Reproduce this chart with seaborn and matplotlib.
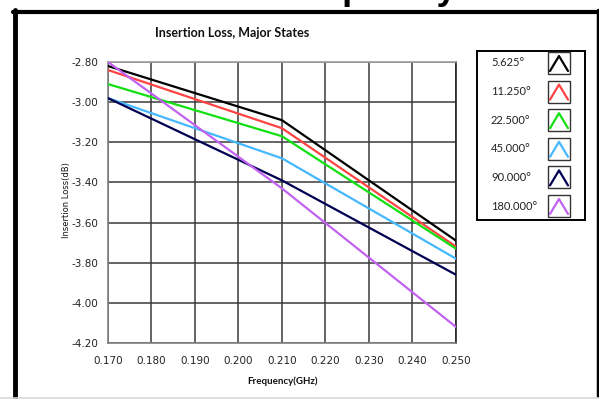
import matplotlib
matplotlib.use("Agg")
import matplotlib.pyplot as plt
import seaborn as sns
import pandas as pd
import numpy as np
from matplotlib.lines import Line2D
from matplotlib.patches import Rectangle

# ---- data ----
freq = [0.170, 0.210, 0.250]
states = ["5.625°", "11.250°", "22.500°", "45.000°", "90.000°", "180.000°"]
loss_5625 = [-2.82, -3.09, -3.69]
loss_11250 = [-2.84, -3.13, -3.72]
loss_22500 = [-2.91, -3.17, -3.73]
loss_45000 = [-2.98, -3.28, -3.78]
loss_90000 = [-2.98, -3.39, -3.86]
loss_180000 = [-2.80, -3.43, -4.12]
colors = ["#000000", "#ff4242", "#11e011", "#45b8ff", "#000050", "#c262f2"]
x_ticks = [0.170, 0.180, 0.190, 0.200, 0.210, 0.220, 0.230, 0.240, 0.250]
y_ticks = [-2.80, -3.00, -3.20, -3.40, -3.60, -3.80, -4.00, -4.20]

series = [loss_5625, loss_11250, loss_22500, loss_45000, loss_90000, loss_180000]
df = pd.DataFrame({
    "Frequency": np.tile(freq, len(states)),
    "Loss": np.concatenate(series),
    "State": np.repeat(states, len(freq)),
})

sns.set_style("white")
plt.rcParams["font.family"] = ["Lato", "DejaVu Sans"]

fig = plt.figure(figsize=(5.99, 3.99), dpi=100)
W, H = 599, 399

def fx(px):
    return px / W

def fy(py):
    return 1 - py / H

ax = fig.add_axes([fx(108), fy(343), fx(456) - fx(108), fy(62) - fy(343)])
sns.lineplot(data=df, x="Frequency", y="Loss", hue="State", hue_order=states,
             palette=colors, linewidth=1.6, legend=False, ax=ax, zorder=3)

ax.set_xlim(0.170, 0.250)
ax.set_ylim(-4.20, -2.80)
ax.set_xticks(x_ticks)
ax.set_xticklabels([f"{v:.3f}" for v in x_ticks])
ax.set_yticks(y_ticks)
ax.set_yticklabels([f"{v:.2f}" for v in y_ticks])
ax.set_xticks(np.arange(0.170, 0.2501, 0.002), minor=True)
ax.set_yticks(np.arange(-4.20, -2.7999, 0.05), minor=True)
ax.grid(True, which="major", color="#3a3a3a", linewidth=1.1, zorder=1)
ax.tick_params(axis="both", which="major", direction="out", length=5, width=1,
               color="#777777", labelsize=8, labelcolor="#222222", pad=2)
ax.tick_params(axis="both", which="minor", direction="out", length=3, width=1,
               color="#777777")
ax.tick_params(axis="x", pad=4)
for lab in ax.get_xticklabels() + ax.get_yticklabels():
    lab.set_family(["DejaVu Sans"])
    lab.set_fontsize(7.5)
ax.spines["left"].set_color("#808080")
ax.spines["bottom"].set_color("#808080")
ax.spines["top"].set_color("#a0a0a0")
ax.spines["right"].set_color("#222222")
for s in ax.spines.values():
    s.set_linewidth(1.2)
ax.set_xlabel("")
ax.set_ylabel("")

# titles and labels
fig.text(fx(232), fy(33), "Insertion Loss, Major States", ha="center", va="center",
         fontsize=9, fontweight="bold", color="#111111")
fig.text(fx(282), fy(381), "Frequency(GHz)", ha="center", va="center",
         fontsize=7, fontweight="bold", color="#111111")
fig.text(fx(67), fy(200), "Insertion Loss(dB)", ha="center", va="center",
         rotation=90, fontsize=6, color="#111111", family=["DejaVu Sans"])

# slide title above the frame (only its descenders show, as in the reference)
fig.text(fx(457), fy(-1), "Insertion Loss vs Frequency", ha="right", va="baseline",
         fontsize=26, fontweight="bold", color="#000000",
         family=["Liberation Sans", "DejaVu Sans"])

# outer frame
fig.add_artist(Line2D([fx(15), fx(15)], [fy(10), fy(399)], color="black", lw=3.5,
                      transform=fig.transFigure))
fig.add_artist(Line2D([fx(13), fx(599)], [fy(11.5), fy(11.5)], color="black", lw=3,
                      transform=fig.transFigure))
fig.add_artist(Line2D([fx(597.5), fx(597.5)], [fy(10), fy(396)], color="black", lw=2.5,
                      transform=fig.transFigure))
fig.add_artist(Line2D([fx(0), fx(599)], [fy(397.5), fy(397.5)], color="#d8d8d8", lw=1.2,
                      transform=fig.transFigure))

# legend
lx0, lx1, ly0, ly1 = 477, 585, 51, 220
fig.add_artist(Rectangle((fx(lx0), fy(ly1)), fx(lx1) - fx(lx0), fy(ly0) - fy(ly1),
                         transform=fig.transFigure, fill=False, edgecolor="black", lw=1.4))
for i, (name, col) in enumerate(zip(states, colors)):
    yc = 63 + i * 28.6
    fig.text(fx(491), fy(yc), name, ha="left", va="center", fontsize=8, color="#222222")
    bx0, bx1, by0, by1 = 548, 570, yc - 11, yc + 11
    fig.add_artist(Rectangle((fx(bx0), fy(by1)), fx(bx1) - fx(bx0), fy(by0) - fy(by1),
                             transform=fig.transFigure, fill=False, edgecolor="#333333", lw=1))
    fig.add_artist(Line2D([fx(550), fx(559), fx(568)], [fy(yc + 8), fy(yc - 7), fy(yc + 8)],
                          color=col, lw=1.6, transform=fig.transFigure))

fig.savefig("out.png", dpi=100, facecolor="white")
